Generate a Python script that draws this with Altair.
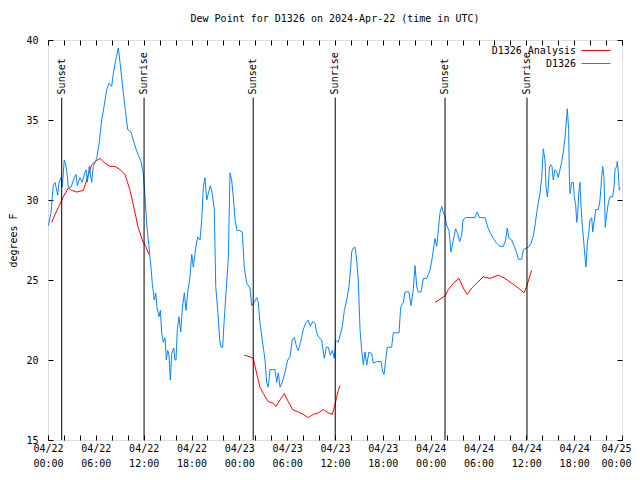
import altair as alt
import pandas as pd

# ---------------- data (hours since 2024-04-22 00:00 UTC) ----------------
obs_hours = [0.04, 0.38, 0.66, 0.88, 1.22, 1.38, 1.63, 1.79, 2.04, 2.22, 2.38, 2.55, 2.89, 3.30, 3.51, 3.68,
             4.01, 4.30, 4.55, 4.77, 4.93, 5.18, 5.48, 5.68, 6.11, 6.43, 6.74, 7.02, 7.36, 7.65, 7.99, 8.19,
             8.49, 8.82, 9.03, 9.32, 9.66, 10.00, 10.41, 10.70, 11.00, 11.33, 11.67, 11.95, 12.17, 12.38,
             12.58, 12.92, 13.08, 13.33, 13.51, 13.67, 13.92, 14.09, 14.26, 14.46, 14.68, 14.84, 15.01,
             15.18, 15.34, 15.52, 15.77, 15.93, 16.06, 16.22, 16.43, 16.65, 16.85, 17.10, 17.31, 17.52,
             17.81, 18.03, 18.23, 18.53, 18.78, 19.07, 19.28, 19.48, 19.69, 19.91, 20.11, 20.36, 20.61,
             20.86, 21.04, 21.29, 21.54, 21.70, 21.91, 22.08, 22.33, 22.62, 22.83, 23.04, 23.24, 23.46,
             23.71, 24.00, 24.37, 24.62, 24.92, 25.34, 25.55, 25.88, 26.18, 26.38, 26.59, 26.88, 27.22,
             27.43, 27.63, 27.85, 28.14, 28.47, 28.69, 28.89, 29.10, 29.39, 29.73, 30.07, 30.36, 30.64,
             30.90, 31.20, 31.40, 31.74, 32.02, 32.32, 32.65, 32.90, 33.20, 33.49, 33.70, 33.99, 34.33,
             34.66, 34.91, 35.16, 35.41, 35.66, 35.91, 36.09, 36.41, 36.67, 36.92, 37.17, 37.47, 37.76,
             37.97, 38.09, 38.30, 38.51, 38.72, 38.92, 39.14, 39.35, 39.55, 39.76, 39.98, 40.26, 40.60,
             40.80, 41.23, 41.77, 41.98, 42.15, 42.36, 42.56, 43.11, 43.31, 44.03, 44.24, 44.57, 44.78,
             45.28, 45.53, 45.82, 46.04, 46.25, 46.45, 46.79, 47.08, 47.50, 47.92, 48.20, 48.54, 48.76,
             48.96, 49.17, 49.38, 49.58, 49.80, 50.01, 50.30, 50.55, 50.84, 51.14, 51.39, 51.64, 51.89,
             52.06, 52.39, 52.93, 53.56, 53.85, 54.10, 54.82, 55.16, 55.53, 55.86, 56.28, 56.70, 57.11,
             57.41, 57.61, 57.83, 58.16, 58.49, 58.79, 58.99, 59.42, 59.62, 60.05, 60.34, 60.59, 60.87,
             61.09, 61.30, 61.50, 61.71, 61.93, 62.13, 62.34, 62.47, 62.63, 62.76, 62.88, 63.06, 63.22,
             63.38, 63.60, 63.81, 64.01, 64.22, 64.44, 64.64, 64.85, 65.06, 65.14, 65.31, 65.39, 65.48,
             65.69, 65.89, 66.02, 66.19, 66.32, 66.44, 66.57, 66.73, 66.86, 67.02, 67.15, 67.36, 67.49,
             67.65, 67.82, 67.99, 68.20, 68.33, 68.49, 68.70, 69.03, 69.24, 69.45, 69.58, 69.74, 69.90,
             70.08, 70.28, 70.49, 70.83, 71.00, 71.12, 71.33, 71.41, 71.53, 71.66, 71.74]
obs_dewpt = [28.4, 29.2, 30.9, 31.1, 30.3, 31.1, 31.4, 30.8, 32.5, 32.2, 31.7, 30.8, 30.8, 31.4, 31.6, 30.9,
             31.4, 31.1, 31.6, 31.9, 31.1, 32.1, 31.1, 32.1, 32.6, 33.6, 35.0, 35.8, 36.9, 37.3, 37.1, 37.9,
             38.75, 39.5, 38.6, 37.3, 35.8, 34.4, 34.25, 33.75, 33.25, 32.8, 32.4, 31.7, 30.2, 28.5,
             27.5, 25.8, 24.8, 23.75, 24.2, 23.3, 22.7, 23.1, 21.7, 21.1, 21.4, 20.0, 20.6,
             20.3, 18.75, 20.4, 20.75, 20.0, 20.0, 21.9, 22.7, 21.75, 23.25, 24.2, 23.1, 24.2,
             25.2, 26.6, 25.8, 27.0, 27.7, 27.5, 28.75, 30.8, 31.4, 30.0, 30.4, 30.9, 30.4,
             29.4, 24.6, 23.1, 21.25, 20.8, 20.8, 22.3, 24.2, 26.4, 31.7, 31.25, 30.2, 28.75,
             28.1, 28.1, 28.0, 25.8, 24.8, 24.5, 23.4, 23.6, 23.9, 23.6, 22.3, 21.25, 20.0,
             18.6, 18.3, 19.4, 19.4, 19.4, 18.6, 19.2, 18.3, 18.6, 19.25, 20.0, 20.2, 21.25,
             21.4, 20.8, 20.6, 21.25, 21.9, 22.3, 22.5, 22.1, 22.4, 22.3, 21.7, 21.4, 21.25,
             20.1, 20.8, 20.8, 20.3, 20.6, 20.1, 21.25, 21.1, 21.6, 22.1, 23.1, 23.75, 24.6,
             25.8, 26.75, 27.0, 27.06, 26.25, 25.0, 21.9, 20.6, 19.7, 20.5, 19.7, 20.5, 20.4,
             19.8, 19.9, 19.9, 19.25, 19.1, 20.0, 20.8, 20.8, 21.7, 21.7, 23.3, 23.6, 24.25,
             24.25, 23.4, 24.4, 25.9, 24.6, 24.25, 24.25, 25.1, 25.1, 25.6, 26.4, 27.6, 27.1,
             28.1, 29.2, 29.6, 29.25, 29.0, 28.4, 28.1, 26.75, 27.5, 28.2, 27.9, 27.4, 27.8,
             28.75, 28.9, 28.9, 28.9, 29.25, 28.9, 28.9, 28.3, 27.9, 27.6, 27.3, 27.1, 27.1,
             27.5, 28.25, 27.6, 27.5, 27.1, 26.7, 26.3, 26.3, 26.9, 27.0, 27.1, 27.3, 27.75,
             28.4, 29.2, 29.8, 30.4, 31.4, 33.2, 32.5, 30.8, 30.2, 30.8, 32.0, 32.2, 32.1,
             31.25, 31.9, 31.75, 31.4, 31.9, 32.4, 33.0, 33.9, 35.2, 35.7, 34.4, 31.6, 30.4,
             31.1, 31.1, 30.2, 29.7, 28.6, 29.1, 30.4, 31.1, 29.6, 28.4, 27.7, 26.4, 25.8,
             27.3, 27.9, 28.75, 28.9, 28.0, 28.6, 29.4, 29.4, 30.0, 31.4, 32.1, 31.4, 28.3,
             29.1, 29.8, 30.2, 30.2, 30.8, 31.9, 32.1, 32.4, 31.75, 30.6, 30.75]

ana_hours_1 = [0.46, 0.88, 1.51, 1.92, 2.55, 2.97, 3.60, 4.43, 4.85, 5.48, 5.90, 6.52, 7.15, 7.78, 8.40,
               9.03, 9.66, 10.29, 10.83, 11.33, 11.83, 12.26, 12.67]
ana_dewpt_1 = [28.6, 29.1, 29.75, 30.2, 30.75, 30.6, 30.5, 30.6, 31.25, 32.2, 32.4, 32.6, 32.3, 32.1, 32.1,
               31.9, 31.6, 30.6, 29.4, 28.25, 27.5, 27.1, 26.6]
ana_hours_2 = [24.62, 25.34, 25.75, 25.97, 26.30, 26.59, 27.01, 27.63, 28.26, 28.60, 29.10, 29.64, 30.14,
               30.69, 31.40, 32.02, 32.65, 33.28, 33.91, 34.53, 35.16, 35.66, 36.00, 36.21, 36.41, 36.63]
ana_dewpt_2 = [20.3, 20.2, 20.1, 19.6, 18.9, 18.3, 17.9, 17.4, 17.3, 17.1, 17.5, 17.9, 17.4,
               16.9, 16.75, 16.6, 16.4, 16.6, 16.7, 16.9, 16.7, 16.6, 17.2, 17.7, 18.1, 18.4]
ana_hours_3 = [48.54, 49.80, 50.21, 50.84, 51.55, 52.09, 52.59, 53.15, 53.77, 54.60, 55.44, 56.48, 57.32,
               58.16, 58.99, 59.71, 60.05, 60.34, 60.67]
ana_dewpt_3 = [23.6, 24.0, 24.4, 24.8, 25.1, 24.5, 24.1, 24.5, 24.8, 25.2, 25.1, 25.3, 25.1,
               24.8, 24.5, 24.2, 24.6, 25.1, 25.6]

sun_hours = [1.72, 12.05, 25.74, 36.03, 49.80, 60.08]
sun_labels = ["Sunset", "Sunrise", "Sunset", "Sunrise", "Sunset", "Sunrise"]
sun_top = 36.4

x_tick_dates = ["04/22", "04/22", "04/22", "04/22", "04/23", "04/23", "04/23", "04/23",
                "04/24", "04/24", "04/24", "04/24", "04/25"]
x_tick_times = ["00:00", "06:00", "12:00", "18:00", "00:00", "06:00", "12:00", "18:00",
                "00:00", "06:00", "12:00", "18:00", "00:00"]
y_ticks = [15, 20, 25, 30, 35, 40]

series_names = ["D1326 Analysis", "D1326"]
series_colors = ["#ff0000", "#0a84ff"]

# ---------------- tables ----------------
obs = pd.DataFrame({"h": obs_hours, "v": obs_dewpt, "series": "D1326", "seg": "obs"})
ana = pd.concat([
    pd.DataFrame({"h": ana_hours_1, "v": ana_dewpt_1, "seg": "a1"}),
    pd.DataFrame({"h": ana_hours_2, "v": ana_dewpt_2, "seg": "a2"}),
    pd.DataFrame({"h": ana_hours_3, "v": ana_dewpt_3, "seg": "a3"}),
])
ana["series"] = "D1326 Analysis"
lines = pd.concat([ana, obs], ignore_index=True)
sun = pd.DataFrame({"h": sun_hours, "label": sun_labels, "top": sun_top, "bottom": 15,
                    "ttop": sun_top + 0.2})

FONT = "DejaVu Sans Mono"
xs = alt.Scale(domain=[0, 72], nice=False, zero=False)
ys = alt.Scale(domain=[15, 40], nice=False, zero=False)
xvals = list(range(0, 73, 2))
label_expr = ("datum.value % 6 == 0 ? [" + str(x_tick_dates) + "[datum.value/6], "
              + str(x_tick_times) + "[datum.value/6]] : ''")

ax_common = dict(offset=-5, tickSize=5, domain=False, grid=False, tickColor="black",
                 tickWidth=1, labelFont=FONT, labelFontSize=10, labelColor="black",
                 titleFont=FONT, titleFontSize=10, titleColor="black", titleFontWeight="normal")

main = alt.Chart(lines).mark_line(strokeWidth=1, interpolate="linear").encode(
    x=alt.X("h:Q", scale=xs, axis=alt.Axis(orient="bottom", values=xvals, labelExpr=label_expr,
                                           labelPadding=3, labelLineHeight=15, labelAngle=0,
                                           labelAlign="center", title=None, labelFlush=False,
                                           labelOverlap=False,
                                           labelOffset={"condition": {"test": "datum.value == 72",
                                                                      "value": -6},
                                                        "value": 0},
                                           **ax_common)),
    y=alt.Y("v:Q", scale=ys, axis=alt.Axis(orient="left", values=y_ticks, labelPadding=10,
                                           title="degrees F", titlePadding=7, **ax_common)),
    color=alt.Color("series:N", scale=alt.Scale(domain=series_names, range=series_colors),
                    legend=alt.Legend(title=None, orient="none", legendX=517, legendY=5,
                                      symbolType="M2.2,0H8", symbolSize=100, symbolStrokeWidth=1,
                                      symbolOffset=0, labelAlign="right", labelOffset=0,
                                      labelFont=FONT, labelFontSize=10, labelColor="black",
                                      rowPadding=2, padding=0)),
    detail="seg:N",
)

mirror_ax = dict(ax_common, labels=False, title=None)
rules = alt.Chart(sun).mark_rule(color="black", strokeWidth=1).encode(
    x=alt.X("h:Q", scale=xs, axis=alt.Axis(orient="top", values=xvals, **mirror_ax)),
    y=alt.Y("top:Q", scale=ys, axis=alt.Axis(orient="right", values=y_ticks, **mirror_ax)),
    y2="bottom:Q",
)
texts = alt.Chart(sun).mark_text(angle=270, align="left", baseline="middle", font=FONT,
                                 fontSize=10, color="black").encode(
    x=alt.X("h:Q", scale=xs, axis=None),
    y=alt.Y("ttop:Q", scale=ys, axis=None),
    text="label:N",
)

chart = alt.layer(main, rules, texts).resolve_axis(x="independent", y="independent").properties(
    width=574, height=400,
    title=alt.Title("Dew Point for D1326 on 2024-Apr-22 (time in UTC)", font=FONT, fontSize=10,
                    fontWeight="normal", color="black", offset=11, anchor="middle"),
    autosize=alt.AutoSizeParams(type="none"),
    padding={"left": 40, "top": 32, "right": 10, "bottom": 30},
).configure_view(stroke="black", strokeWidth=1).configure(background="white")

chart.save("out.html", embed_options={"renderer": "svg", "actions": False})
